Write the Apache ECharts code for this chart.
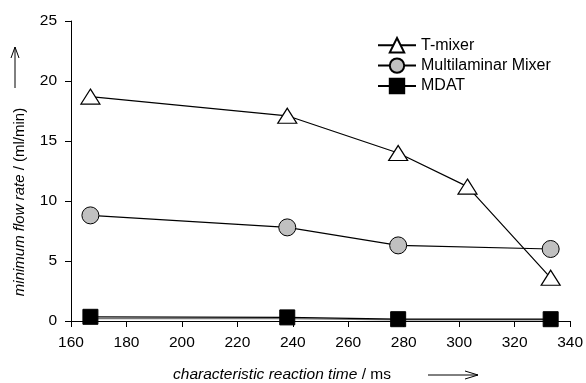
<!DOCTYPE html>
<html>
<head>
<meta charset="utf-8">
<script src="https://cdn.jsdelivr.net/npm/echarts@6/dist/echarts.min.js"></script>
<style>
  html, body { margin: 0; padding: 0; background: #fff; }
  #chart { width: 586px; height: 383px; }
</style>
</head>
<body>
<div id="chart"></div>
<script>
  // reaction time (ms) for each measured point
  const reactionTime = [167, 238, 278, 303, 333];
  const tMixer = [18.7, 17.1, 14.0, 11.2, 3.6];
  const multilaminar = [8.8, 7.8, 6.3, null, 6.0];
  const mdat = [0.35, 0.3, 0.15, null, 0.15];
  const mdatLower = [0.2, 0.2, 0.1, null, 0.1];

  const xTicks = [160, 340, 20];
  const yTicks = [0, 25, 5];

  const pairs = (ys) => reactionTime.map((x, i) => [x, ys[i]]).filter(p => p[1] != null);

  let chartDom = document.getElementById('chart');
  let myChart = echarts.init(chartDom);
  let option;

  const font = 'Liberation Sans, Arial, sans-serif';

  option = {
    animation: false,
    textStyle: { fontFamily: font },
    grid: { left: 71, right: 15, top: 21, bottom: 62 },
    legend: {
      left: 372,
      top: 32,
      orient: 'vertical',
      itemWidth: 38,
      itemHeight: 18,
      itemGap: 4,
      textStyle: { fontSize: 16, color: '#000', fontFamily: font },
      data: ['T-mixer', 'Multilaminar Mixer', 'MDAT']
    },
    xAxis: {
      type: 'value',
      min: xTicks[0],
      max: xTicks[1],
      interval: xTicks[2],
      splitLine: { show: false },
      axisLine: { lineStyle: { color: '#000', width: 1 } },
      axisTick: { length: 6, lineStyle: { color: '#000' } },
      axisLabel: { fontSize: 15.5, color: '#000', margin: 14 }
    },
    yAxis: {
      type: 'value',
      min: yTicks[0],
      max: yTicks[1],
      interval: yTicks[2],
      splitLine: { show: false },
      axisLine: { show: true, lineStyle: { color: '#000', width: 1 } },
      axisTick: { show: true, length: 6, lineStyle: { color: '#000' } },
      axisLabel: { fontSize: 15.5, color: '#000', margin: 14 }
    },
    graphic: [
      {
        type: 'text',
        x: 20, y: 202,
        rotation: Math.PI / 2,
        style: {
          text: '{i|minimum flow rate} / (ml/min)',
          fontSize: 15, fill: '#000', fontFamily: font,
          align: 'center', verticalAlign: 'middle',
          rich: { i: { fontStyle: 'italic', fontSize: 15, fontFamily: font } }
        }
      },
      { type: 'line', shape: { x1: 15, y1: 88, x2: 15, y2: 47 }, style: { stroke: '#000', lineWidth: 1 } },
      { type: 'polyline', shape: { points: [[11, 58], [15, 47], [19, 58]] }, style: { stroke: '#000', lineWidth: 1, fill: null } },
      {
        type: 'text',
        x: 282, y: 375,
        style: {
          text: '{i|characteristic reaction time} / ms',
          fontSize: 15.5, fill: '#000', fontFamily: font,
          align: 'center', verticalAlign: 'middle',
          rich: { i: { fontStyle: 'italic', fontSize: 15.5, fontFamily: font } }
        }
      },
      { type: 'line', shape: { x1: 428, y1: 375, x2: 478, y2: 375 }, style: { stroke: '#000', lineWidth: 1 } },
      { type: 'polyline', shape: { points: [[465, 371], [478, 375], [465, 379]] }, style: { stroke: '#000', lineWidth: 1, fill: null } }
    ],
    series: [
      {
        name: 'MDAT-lower',
        type: 'line',
        data: pairs(mdatLower),
        symbol: 'none',
        lineStyle: { color: '#777', width: 1.3 },
        z: 1
      },
      {
        name: 'MDAT',
        type: 'line',
        data: pairs(mdat),
        symbol: 'rect',
        symbolSize: 15,
        itemStyle: { color: '#000', borderColor: '#000', borderWidth: 1 },
        lineStyle: { color: '#000', width: 1.3 },
        z: 2
      },
      {
        name: 'Multilaminar Mixer',
        type: 'line',
        data: pairs(multilaminar),
        symbol: 'circle',
        symbolSize: 17,
        itemStyle: { color: '#c0c0c0', borderColor: '#000', borderWidth: 1 },
        lineStyle: { color: '#000', width: 1.2 },
        z: 3
      },
      {
        name: 'T-mixer',
        type: 'line',
        data: pairs(tMixer),
        symbol: 'triangle',
        symbolSize: [19, 15],
        itemStyle: { color: '#fff', borderColor: '#000', borderWidth: 1.2 },
        lineStyle: { color: '#000', width: 1.2 },
        z: 4
      }
    ]
  };

  option && myChart.setOption(option);
</script>
</body>
</html>
